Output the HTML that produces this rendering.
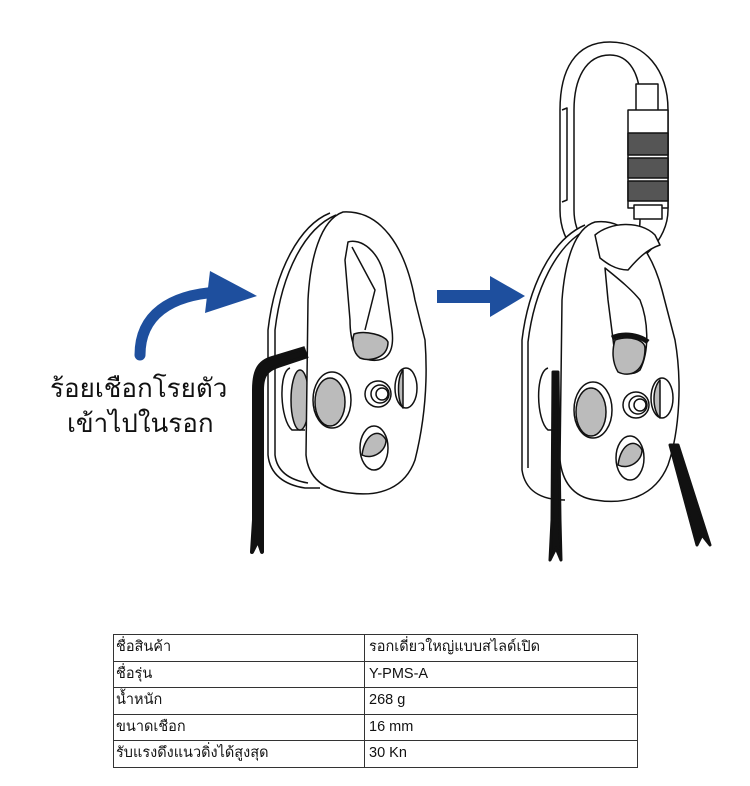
<!DOCTYPE html>
<html><head><meta charset="utf-8"><style>
body{margin:0;background:#fff;width:750px;height:786px;position:relative;overflow:hidden;font-family:"Liberation Sans","Noto Sans CJK SC",sans-serif}
svg{position:absolute;left:0;top:0}
.t{position:absolute;font-family:"Liberation Sans","Noto Sans CJK SC",sans-serif;color:#111;white-space:nowrap}
table{position:absolute;left:113px;top:634px;width:525px;border-collapse:collapse;font-size:14.5px;border:1.5px solid #333}
td{border:1px solid #333;height:25.5px;padding:0 0 0 2px;line-height:25px;color:#111;white-space:nowrap}
td+td{padding-left:4px}
</style></head><body>
<svg width="750" height="786" viewBox="0 0 750 786">
<g fill="none" stroke="#111" stroke-width="1.5" stroke-linejoin="round">
<path d="M140 355 C140 315 170 295 218 292" stroke="#1e4f9e" stroke-width="11" stroke-linecap="round"/>
<path d="M210 271 L257 296 L205 313 Z" fill="#1e4f9e" stroke="none"/>
<rect x="437" y="290" width="60" height="13" fill="#1e4f9e" stroke="none"/>
<path d="M490 276 L525 296 L490 317 Z" fill="#1e4f9e" stroke="none"/>

<path d="M330 213 C300 225 275 270 268 330 L268 455 C270 475 285 485 305 488 L320 488" fill="#fff"/>
<path d="M336 215 C305 228 282 272 275 330 L275 455 C277 472 290 480 308 483"/>
<path d="M290 368 C278 372 280 420 292 430 L305 430" fill="#fff"/>
<ellipse cx="300" cy="400" rx="9" ry="30" fill="#bbb"/>
<path d="M343 212 C380 210 405 245 415 300 L425 340 C428 380 425 420 415 460 C405 488 380 497 350 493 C320 490 308 475 306 455 L308 300 C310 260 320 220 343 212 Z" fill="#fff"/>
<path d="M348 242 C360 238 380 250 385 280 L392 330 C395 355 385 362 370 360 C355 358 350 340 350 320 L345 260 Z" fill="#fff"/>
<path d="M352 247 L375 290 L365 330"/>
<path d="M354 334 C365 330 385 335 388 342 C388 358 370 362 360 358 C352 352 352 340 354 334 Z" fill="#bbb"/>
<ellipse cx="332" cy="400" rx="19" ry="28" fill="#fff"/>
<ellipse cx="330" cy="402" rx="15" ry="24" fill="#bbb"/>
<circle cx="378" cy="394" r="13" fill="#fff"/><circle cx="380" cy="394" r="9"/><circle cx="382" cy="394" r="6"/>
<ellipse cx="406" cy="388" rx="11" ry="20" fill="#fff"/><path d="M403 370 C397 378 397 400 403 408 Z" fill="#bbb"/>
<ellipse cx="374" cy="448" rx="14" ry="22" fill="#fff"/><path d="M362 455 C365 432 380 428 386 440 C386 452 372 460 362 455 Z" fill="#bbb"/>
<path d="M305 348 L272 358 C258 362 254 372 254 390 L254 520 L252 552 L258 540 L262 552 L262 390 C262 376 266 370 278 366 L308 356" fill="#111" stroke="#111" stroke-width="4"/>

<path d="M610 42 C575 42 560 70 560 110 L560 210 C560 245 585 268 610 268 C640 268 668 240 668 210 L668 110 C668 70 645 42 610 42 Z" fill="#fff"/>
<path d="M610 55 C585 55 574 80 574 110 L574 210 C574 235 590 255 610 255 C630 255 640 240 640 220 L640 100 C640 75 630 55 610 55 Z"/>
<path d="M562 110 L567 108 L567 200 L562 202"/>
<rect x="636" y="84" width="22" height="30" fill="#fff"/>
<rect x="628" y="110" width="40" height="98" fill="#fff"/>
<rect x="628" y="133" width="40" height="22" fill="#555"/>
<rect x="628" y="158" width="40" height="20" fill="#555"/>
<rect x="628" y="181" width="40" height="20" fill="#555"/>
<rect x="634" y="205" width="28" height="14" fill="#fff"/>

<path d="M585 225 C550 240 528 290 522 340 L522 470 C525 490 540 500 565 500" fill="#fff"/>
<path d="M590 228 C556 243 534 292 528 342 L528 468"/>
<path d="M548 368 C535 372 536 420 548 430 L558 430" fill="#fff"/>
<path d="M595 222 C625 218 650 245 662 290 L675 340 C682 380 680 430 668 465 C655 497 625 505 595 500 C572 497 562 480 560 460 L562 300 C565 260 575 228 595 222 Z" fill="#fff"/>
<path d="M595 235 C610 222 640 220 655 235 L660 245 C645 250 635 262 628 270 C615 270 605 262 600 258 Z" fill="#fff"/>
<path d="M605 268 C620 280 632 290 640 300 C648 320 650 350 640 370 C630 378 618 372 615 355 L608 300 Z" fill="#fff"/>
<path d="M615 340 C630 335 645 340 645 348 C645 372 630 378 618 372 C612 362 612 350 615 340 Z" fill="#bbb"/>
<path d="M612 338 C625 332 640 336 648 342" stroke-width="5"/>
<ellipse cx="593" cy="410" rx="19" ry="28" fill="#fff"/>
<ellipse cx="591" cy="412" rx="15" ry="24" fill="#bbb"/>
<circle cx="636" cy="405" r="13" fill="#fff"/><circle cx="638" cy="405" r="9"/><circle cx="640" cy="405" r="6"/>
<ellipse cx="662" cy="398" rx="11" ry="20" fill="#fff"/><path d="M660 380 C652 388 652 410 660 418 Z" fill="#bbb"/>
<ellipse cx="630" cy="458" rx="14" ry="22" fill="#fff"/><path d="M618 465 C621 442 636 438 642 450 C642 462 628 470 618 465 Z" fill="#bbb"/>
<path d="M553 372 L552 520 L550 560 L556 548 L561 560 L560 520 L558 372 Z" fill="#111" stroke="#111" stroke-width="3"/>
<path d="M670 445 L697 545 L702 535 L710 545 L678 445 Z" fill="#111" stroke="#111" stroke-width="3"/>
</g>
</svg>
<div class="t" style="left:50px;top:368px;font-size:26px">ร้อยเชือกโรยตัว</div>
<div class="t" style="left:67px;top:403px;font-size:26px">เข้าไปในรอก</div>
<table>
<tr><td style="width:248px">ชื่อสินค้า</td><td>รอกเดี่ยวใหญ่แบบสไลด์เปิด</td></tr>
<tr><td>ชื่อรุ่น</td><td>Y-PMS-A</td></tr>
<tr><td>น้ำหนัก</td><td>268 g</td></tr>
<tr><td>ขนาดเชือก</td><td>16 mm</td></tr>
<tr><td>รับแรงดึงแนวดิ่งได้สูงสุด</td><td>30 Kn</td></tr>
</table>
</body></html>
